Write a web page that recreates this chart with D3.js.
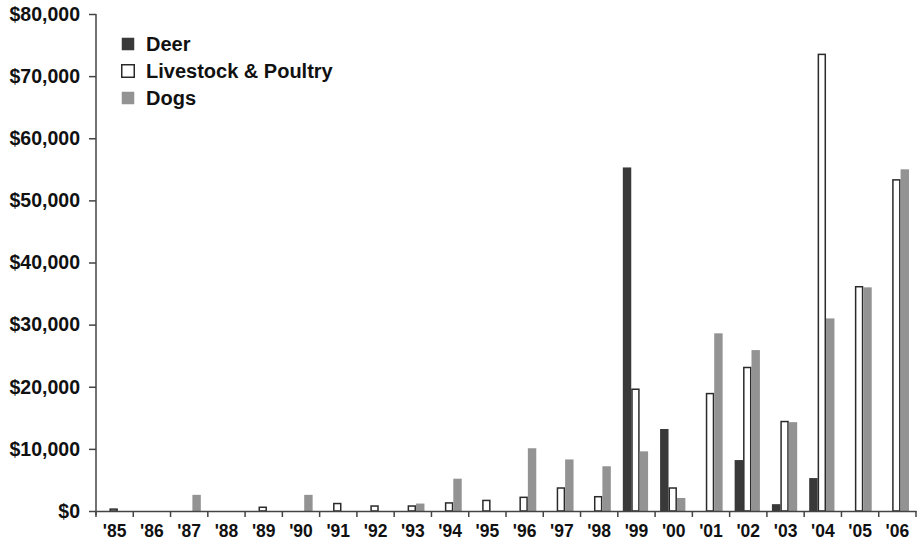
<!DOCTYPE html>
<html>
<head>
<meta charset="utf-8">
<script src="https://cdn.jsdelivr.net/npm/d3@7/dist/d3.min.js"></script>
<style>
  body { margin: 0; background: #fff; }
  svg text { font-family: "Liberation Sans", Arial, sans-serif; font-weight: bold; fill: #111; }
</style>
</head>
<body>
<div id="chart"></div>
<script>
// data
var years = ["'85","'86","'87","'88","'89","'90","'91","'92","'93","'94","'95","'96","'97","'98","'99","'00","'01","'02","'03","'04","'05","'06"];
var deer      = [0, 0, 0, 0, 0, 0, 0, 0, 0, 0, 0, 0, 0, 0, 55300, 13200, 0, 8200, 1100, 5300, 0, 0];
var livestock = [300, 0, 0, 0, 600, 0, 1200, 800, 800, 1300, 1700, 2200, 3700, 2300, 19600, 3700, 18900, 23100, 14400, 73500, 36100, 53300];
var dogs      = [0, 0, 2600, 0, 0, 2600, 0, 0, 1200, 5200, 0, 10100, 8300, 7200, 9600, 2100, 28600, 25900, 14300, 31000, 36000, 55000];
var seriesNames = ["Deer", "Livestock & Poultry", "Dogs"];
var yTicks = [0, 10000, 20000, 30000, 40000, 50000, 60000, 70000, 80000];

var W = 918, H = 541;
var margin = { top: 14, right: 2, bottom: 30, left: 96 };
var width = W - margin.left - margin.right;
var height = H - margin.top - margin.bottom;

var svg = d3.select("#chart").append("svg")
    .attr("width", W)
    .attr("height", H);
var g = svg.append("g")
    .attr("transform", "translate(" + margin.left + "," + margin.top + ")");

var table = years.map(function(y, i) {
  return { year: y, values: [deer[i], livestock[i], dogs[i]] };
});

var x0 = d3.scaleBand().domain(years).range([0, width]).padding(0);
var x1 = d3.scaleBand().domain(seriesNames).range([5, x0.bandwidth() - 7]).padding(0);
var y = d3.scaleLinear().domain([0, 80000]).range([height, 0]);

var fills  = { "Deer": "#393939", "Livestock & Poultry": "#ffffff", "Dogs": "#939393" };
var stroke = { "Deer": "none", "Livestock & Poultry": "#2a2a2a", "Dogs": "none" };

// bars
var groups = g.selectAll(".grp")
    .data(table)
    .enter().append("g")
    .attr("class", "grp")
    .attr("transform", function(d) { return "translate(" + x0(d.year) + ",0)"; });

groups.selectAll("rect")
    .data(function(d) {
      return d.values.map(function(v, i) { return { key: seriesNames[i], value: v }; })
                     .filter(function(e) { return e.value > 0; });
    })
    .enter().append("rect")
    .attr("x", function(d) { return x1(d.key) + (d.key === "Livestock & Poultry" ? 0.75 : 0); })
    .attr("width", function(d) { return x1.bandwidth() - (d.key === "Livestock & Poultry" ? 1.5 : 0); })
    .attr("y", function(d) { return y(d.value); })
    .attr("height", function(d) { return height - y(d.value); })
    .style("fill", function(d) { return fills[d.key]; })
    .style("stroke", function(d) { return stroke[d.key]; })
    .style("stroke-width", 1.5);

// y axis
var yAxis = d3.axisLeft(y)
    .tickValues(yTicks)
    .tickFormat(function(d) { return "$" + d3.format(",")(d); })
    .tickSize(7)
    .tickPadding(9);
var yg = g.append("g").attr("class", "yAxis").call(yAxis);
yg.select(".domain").attr("stroke", "#444").attr("stroke-width", 1.5)
  .attr("d", "M0," + (height + 4) + "V" + y(80000));
yg.selectAll(".tick line").attr("stroke", "#444").attr("stroke-width", 1.5);
yg.selectAll(".tick text").attr("font-size", "19.5px").style("fill", "#111");

// x axis: labels centred in bands, ticks at band edges
var xAxis = d3.axisBottom(x0).tickSize(0).tickPadding(14);
var xg = g.append("g").attr("class", "xAxis")
    .attr("transform", "translate(0," + height + ")")
    .call(xAxis);
xg.select(".domain").attr("stroke", "#444").attr("stroke-width", 1.5);
xg.selectAll(".tick text").attr("font-size", "17.5px").style("fill", "#111");

var edges = years.map(function(yr) { return x0(yr); }).concat([x0.range()[1]]);
xg.selectAll(".edge")
    .data(edges)
    .enter().append("line")
    .attr("class", "edge")
    .attr("x1", function(d) { return d; })
    .attr("x2", function(d) { return d; })
    .attr("y1", 0)
    .attr("y2", 6)
    .attr("stroke", "#444")
    .attr("stroke-width", 1.5);

// legend
var legend = g.selectAll(".legend")
    .data(seriesNames)
    .enter().append("g")
    .attr("class", "legend")
    .attr("transform", function(d, i) { return "translate(25," + (23 + i * 27) + ")"; });
legend.append("rect")
    .attr("x", 0.75)
    .attr("y", 0.75)
    .attr("width", 12.5)
    .attr("height", 12.5)
    .style("fill", function(d) { return fills[d]; })
    .style("stroke", function(d) { return d === "Livestock & Poultry" ? "#2a2a2a" : "none"; })
    .style("stroke-width", 1.5);
legend.append("text")
    .attr("x", 25)
    .attr("y", 14)
    .attr("font-size", "20px")
    .text(function(d) { return d; });
</script>
</body>
</html>
